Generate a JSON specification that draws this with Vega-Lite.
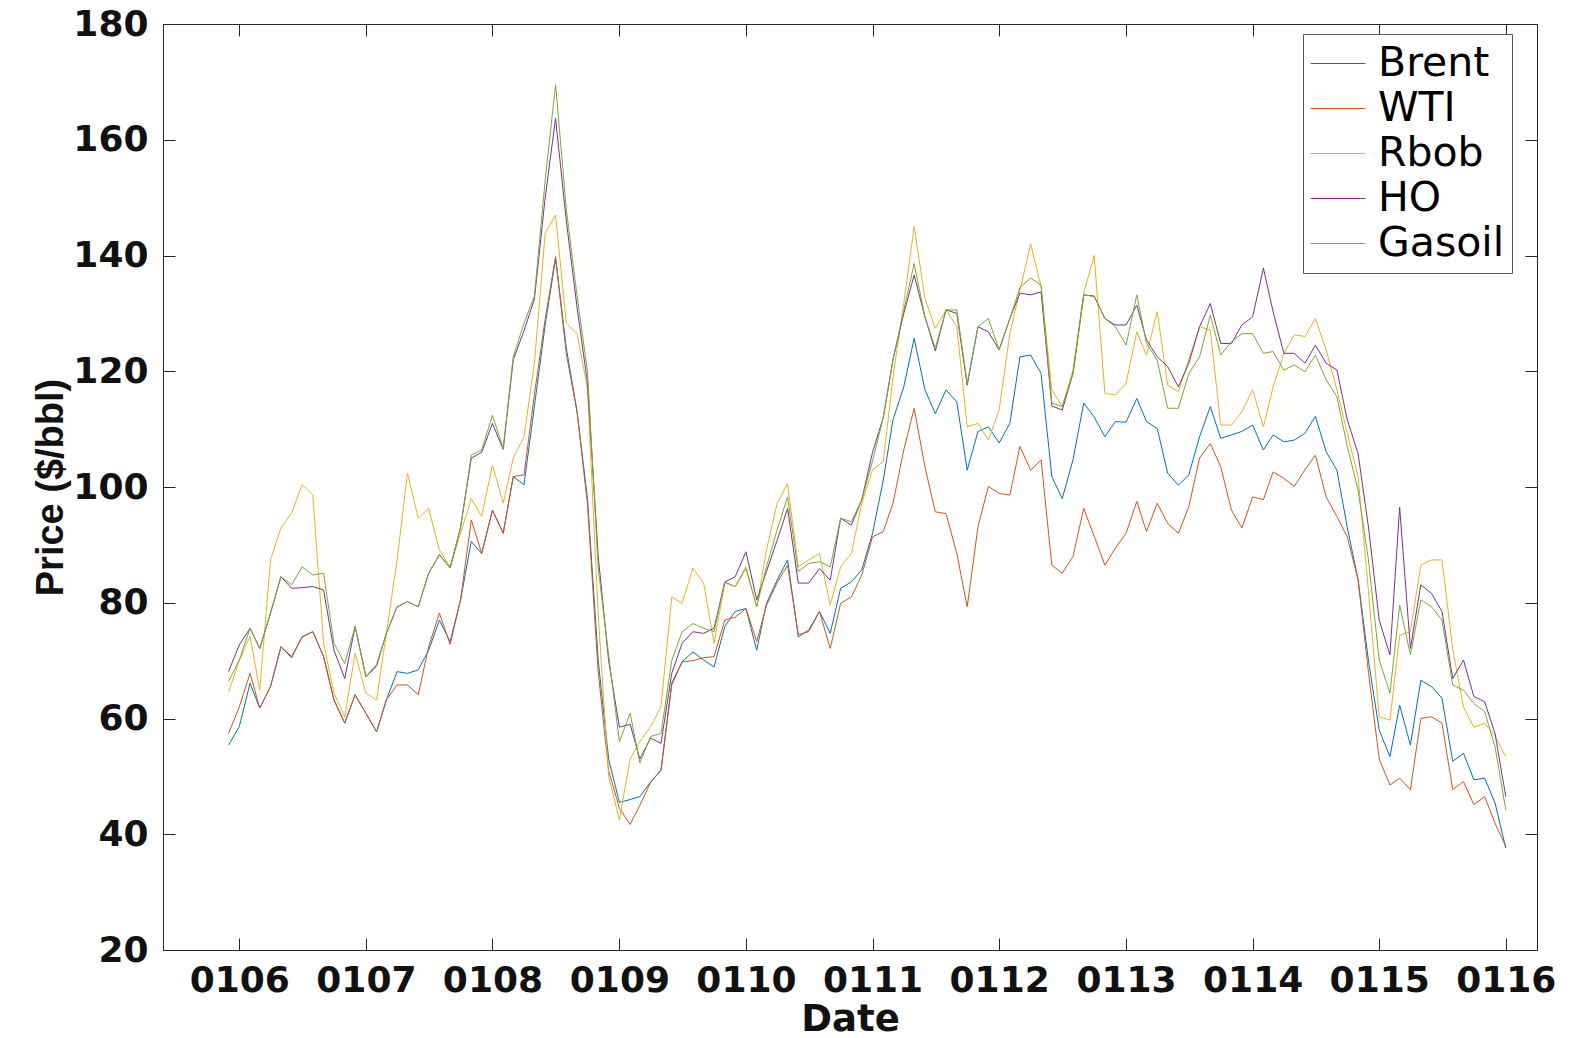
{
  "$schema": "https://vega.github.io/schema/vega-lite/v6.json",
  "autosize": {"type": "none"},
  "padding": {"left": 163, "top": 24, "right": 35, "bottom": 88},
  "width": 1374,
  "height": 926,
  "background": "white",
  "config": {
    "view": {"stroke": "#262626", "strokeWidth": 1},
    "axis": {"grid": false, "domain": false, "tickColor": "#262626", "tickWidth": 1, "tickSize": -12,
      "labelFont": "DejaVu Sans", "labelFontWeight": "bold", "labelFontSize": 36, "labelColor": "#111",
      "titleColor": "#111"},
    "legend": {"orient": "none", "legendX": 1140, "legendY": 10, "symbolType": "stroke", "symbolSize": 3000,
      "symbolStrokeWidth": 1, "labelFont": "DejaVu Sans", "labelFontSize": 41, "labelColor": "#000",
      "labelLimit": 400, "strokeColor": "#555", "fillColor": "#fff", "padding": 7, "rowPadding": 0,
      "clipHeight": 45, "labelOffset": 12}
  },
  "data": {"values": [
    {"d":"2005-12-01","Brent":55.4,"WTI":57.4,"Rbob":64.6,"HO":68.1,"Gasoil":66.4},
    {"d":"2006-01-01","Brent":58.6,"WTI":62.0,"Rbob":70,"HO":72.7,"Gasoil":70.1},
    {"d":"2006-02-01","Brent":66.1,"WTI":67.8,"Rbob":74.2,"HO":75.6,"Gasoil":75.6},
    {"d":"2006-03-01","Brent":61.8,"WTI":61.8,"Rbob":64.9,"HO":72.1,"Gasoil":72.1},
    {"d":"2006-04-01","Brent":65.5,"WTI":65.5,"Rbob":87.4,"HO":78.2,"Gasoil":78.2},
    {"d":"2006-05-01","Brent":72.4,"WTI":72.4,"Rbob":92.9,"HO":84.5,"Gasoil":84.5},
    {"d":"2006-06-01","Brent":70.5,"WTI":70.7,"Rbob":95.5,"HO":82.5,"Gasoil":83.1},
    {"d":"2006-07-01","Brent":74.1,"WTI":74.1,"Rbob":100.4,"HO":82.6,"Gasoil":86.2},
    {"d":"2006-08-01","Brent":75.0,"WTI":75.0,"Rbob":98.6,"HO":82.8,"Gasoil":84.8},
    {"d":"2006-09-01","Brent":70.7,"WTI":70.7,"Rbob":73,"HO":82.2,"Gasoil":85.1},
    {"d":"2006-10-01","Brent":63.2,"WTI":63.2,"Rbob":64.4,"HO":71.8,"Gasoil":73.0},
    {"d":"2006-11-01","Brent":59.2,"WTI":59.2,"Rbob":60.3,"HO":66.9,"Gasoil":69.5},
    {"d":"2006-12-01","Brent":64.1,"WTI":64.1,"Rbob":71.3,"HO":75.9,"Gasoil":75.9},
    {"d":"2007-01-01","Brent":60.9,"WTI":60.9,"Rbob":64.4,"HO":67.2,"Gasoil":67.2},
    {"d":"2007-02-01","Brent":57.7,"WTI":57.7,"Rbob":63.2,"HO":69.3,"Gasoil":69.0},
    {"d":"2007-03-01","Brent":63.2,"WTI":63.2,"Rbob":74.7,"HO":74.7,"Gasoil":74.7},
    {"d":"2007-04-01","Brent":68.1,"WTI":65.8,"Rbob":87.4,"HO":79.3,"Gasoil":79.3},
    {"d":"2007-05-01","Brent":67.8,"WTI":65.8,"Rbob":102.4,"HO":80.2,"Gasoil":80.2},
    {"d":"2007-06-01","Brent":68.4,"WTI":64.1,"Rbob":94.6,"HO":79.3,"Gasoil":79.3},
    {"d":"2007-07-01","Brent":71.8,"WTI":72.4,"Rbob":96.3,"HO":85.1,"Gasoil":85.1},
    {"d":"2007-08-01","Brent":77.0,"WTI":78.2,"Rbob":89.1,"HO":88.3,"Gasoil":88.3},
    {"d":"2007-09-01","Brent":73.3,"WTI":72.8,"Rbob":86.2,"HO":86,"Gasoil":86},
    {"d":"2007-10-01","Brent":80.5,"WTI":80.5,"Rbob":92,"HO":93,"Gasoil":93},
    {"d":"2007-11-01","Brent":90.6,"WTI":94.3,"Rbob":98,"HO":105,"Gasoil":105.5},
    {"d":"2007-12-01","Brent":88.5,"WTI":88.5,"Rbob":94.9,"HO":106,"Gasoil":106.4},
    {"d":"2008-01-01","Brent":96.0,"WTI":96.0,"Rbob":103.8,"HO":111,"Gasoil":112.4},
    {"d":"2008-02-01","Brent":92.0,"WTI":92.0,"Rbob":97.2,"HO":106.5,"Gasoil":106.7},
    {"d":"2008-03-01","Brent":101.8,"WTI":101.8,"Rbob":105,"HO":122,"Gasoil":122.5},
    {"d":"2008-04-01","Brent":100.4,"WTI":102.1,"Rbob":108.7,"HO":127,"Gasoil":128.3},
    {"d":"2008-05-01","Brent":114,"WTI":116,"Rbob":121.4,"HO":132.5,"Gasoil":133},
    {"d":"2008-06-01","Brent":128,"WTI":129,"Rbob":143.8,"HO":150,"Gasoil":153},
    {"d":"2008-07-01","Brent":139.5,"WTI":139.8,"Rbob":147,"HO":163.7,"Gasoil":169.5},
    {"d":"2008-08-01","Brent":124,"WTI":123,"Rbob":128.3,"HO":146,"Gasoil":148},
    {"d":"2008-09-01","Brent":113,"WTI":113,"Rbob":126.5,"HO":131,"Gasoil":133},
    {"d":"2008-10-01","Brent":98,"WTI":97,"Rbob":117,"HO":118,"Gasoil":120},
    {"d":"2008-11-01","Brent":70,"WTI":68,"Rbob":78,"HO":88,"Gasoil":86},
    {"d":"2008-12-01","Brent":53,"WTI":51,"Rbob":50,"HO":70,"Gasoil":71},
    {"d":"2009-01-01","Brent":45.5,"WTI":44.5,"Rbob":42.5,"HO":58.5,"Gasoil":56},
    {"d":"2009-02-01","Brent":46,"WTI":41.7,"Rbob":53,"HO":59,"Gasoil":60.9},
    {"d":"2009-03-01","Brent":46.5,"WTI":45,"Rbob":56,"HO":53,"Gasoil":52.3},
    {"d":"2009-04-01","Brent":49,"WTI":49,"Rbob":58.6,"HO":56.6,"Gasoil":56.9},
    {"d":"2009-05-01","Brent":51.1,"WTI":51,"Rbob":62,"HO":55.7,"Gasoil":57.4},
    {"d":"2009-06-01","Brent":66.1,"WTI":65.8,"Rbob":81,"HO":67.8,"Gasoil":70},
    {"d":"2009-07-01","Brent":69.8,"WTI":69.8,"Rbob":79.9,"HO":73,"Gasoil":75.0},
    {"d":"2009-08-01","Brent":71.5,"WTI":70.0,"Rbob":86,"HO":75,"Gasoil":76.4},
    {"d":"2009-09-01","Brent":70.1,"WTI":70.5,"Rbob":83.4,"HO":74.7,"Gasoil":75.6},
    {"d":"2009-10-01","Brent":68.9,"WTI":70.7,"Rbob":73,"HO":75.6,"Gasoil":75.0},
    {"d":"2009-11-01","Brent":75.9,"WTI":77,"Rbob":83.4,"HO":83.6,"Gasoil":83.6},
    {"d":"2009-12-01","Brent":78.5,"WTI":77.5,"Rbob":82.8,"HO":84.5,"Gasoil":82.8},
    {"d":"2010-01-01","Brent":79.0,"WTI":79,"Rbob":86.2,"HO":88.8,"Gasoil":85.9},
    {"d":"2010-02-01","Brent":71.8,"WTI":73.3,"Rbob":79.3,"HO":80.5,"Gasoil":79.3},
    {"d":"2010-03-01","Brent":79.9,"WTI":79.5,"Rbob":89.1,"HO":85.4,"Gasoil":86.2},
    {"d":"2010-04-01","Brent":83.9,"WTI":83.5,"Rbob":97.2,"HO":90.8,"Gasoil":92.6},
    {"d":"2010-05-01","Brent":87.4,"WTI":86.5,"Rbob":100.6,"HO":96.3,"Gasoil":98.3},
    {"d":"2010-06-01","Brent":74.1,"WTI":74.5,"Rbob":86.2,"HO":83.4,"Gasoil":85.4},
    {"d":"2010-07-01","Brent":75.3,"WTI":75,"Rbob":87.4,"HO":83.4,"Gasoil":86.8},
    {"d":"2010-08-01","Brent":78.5,"WTI":78.5,"Rbob":88.5,"HO":85.9,"Gasoil":87.1},
    {"d":"2010-09-01","Brent":74.7,"WTI":72.1,"Rbob":79.6,"HO":83.9,"Gasoil":86.2},
    {"d":"2010-10-01","Brent":82.5,"WTI":79.9,"Rbob":86.2,"HO":94.6,"Gasoil":94.6},
    {"d":"2010-11-01","Brent":83.6,"WTI":81.0,"Rbob":88.5,"HO":93.4,"Gasoil":94},
    {"d":"2010-12-01","Brent":85.7,"WTI":84.8,"Rbob":97.2,"HO":97.8,"Gasoil":97.8},
    {"d":"2011-01-01","Brent":92,"WTI":91.4,"Rbob":103,"HO":106,"Gasoil":104.5},
    {"d":"2011-02-01","Brent":101.2,"WTI":92.3,"Rbob":104.4,"HO":112,"Gasoil":112},
    {"d":"2011-03-01","Brent":111.6,"WTI":97.2,"Rbob":119,"HO":122,"Gasoil":122},
    {"d":"2011-04-01","Brent":117.3,"WTI":106.4,"Rbob":131.7,"HO":130,"Gasoil":130.5},
    {"d":"2011-05-01","Brent":125.7,"WTI":113.6,"Rbob":145,"HO":136.6,"Gasoil":138.6},
    {"d":"2011-06-01","Brent":116.8,"WTI":103.5,"Rbob":132.6,"HO":129.4,"Gasoil":129.4},
    {"d":"2011-07-01","Brent":112.7,"WTI":95.7,"Rbob":127.4,"HO":123.5,"Gasoil":124},
    {"d":"2011-08-01","Brent":116.8,"WTI":95.4,"Rbob":130.6,"HO":130.6,"Gasoil":130.6},
    {"d":"2011-09-01","Brent":114.7,"WTI":88.5,"Rbob":127.7,"HO":130,"Gasoil":130.6},
    {"d":"2011-10-01","Brent":102.9,"WTI":79.3,"Rbob":110.4,"HO":117.6,"Gasoil":117.9},
    {"d":"2011-11-01","Brent":109.6,"WTI":93.1,"Rbob":111,"HO":127.7,"Gasoil":127.7},
    {"d":"2011-12-01","Brent":110.4,"WTI":100.1,"Rbob":108.1,"HO":126.8,"Gasoil":129.1},
    {"d":"2012-01-01","Brent":107.6,"WTI":98.9,"Rbob":113.3,"HO":123.7,"Gasoil":123.7},
    {"d":"2012-02-01","Brent":111,"WTI":98.6,"Rbob":126.5,"HO":129.1,"Gasoil":129.1},
    {"d":"2012-03-01","Brent":122.5,"WTI":107,"Rbob":134,"HO":133.5,"Gasoil":134.5},
    {"d":"2012-04-01","Brent":122.8,"WTI":102.9,"Rbob":142,"HO":133.2,"Gasoil":136.1},
    {"d":"2012-05-01","Brent":119.6,"WTI":104.7,"Rbob":134.6,"HO":133.7,"Gasoil":134.9},
    {"d":"2012-06-01","Brent":101.8,"WTI":86.5,"Rbob":116.8,"HO":114,"Gasoil":114.5},
    {"d":"2012-07-01","Brent":98.0,"WTI":85.1,"Rbob":113.9,"HO":113.3,"Gasoil":113.9},
    {"d":"2012-08-01","Brent":104.7,"WTI":88.0,"Rbob":120.2,"HO":119.6,"Gasoil":119.6},
    {"d":"2012-09-01","Brent":114.5,"WTI":96.3,"Rbob":133.5,"HO":133.2,"Gasoil":133.2},
    {"d":"2012-10-01","Brent":112.1,"WTI":91.5,"Rbob":140,"HO":133,"Gasoil":132.9},
    {"d":"2012-11-01","Brent":108.7,"WTI":86.5,"Rbob":116.2,"HO":129.1,"Gasoil":129.1},
    {"d":"2012-12-01","Brent":111.3,"WTI":89.4,"Rbob":115.9,"HO":128,"Gasoil":127.7},
    {"d":"2013-01-01","Brent":111.2,"WTI":92,"Rbob":117.9,"HO":128,"Gasoil":124.5},
    {"d":"2013-02-01","Brent":115.3,"WTI":97.5,"Rbob":126.8,"HO":131.4,"Gasoil":133.2},
    {"d":"2013-03-01","Brent":111.3,"WTI":92.3,"Rbob":122.8,"HO":125.4,"Gasoil":124.8},
    {"d":"2013-04-01","Brent":110.1,"WTI":97.2,"Rbob":130.3,"HO":122.5,"Gasoil":121.9},
    {"d":"2013-05-01","Brent":102.4,"WTI":93.7,"Rbob":117.6,"HO":120.8,"Gasoil":113.6},
    {"d":"2013-06-01","Brent":100.3,"WTI":92,"Rbob":116.5,"HO":117.3,"Gasoil":113.6},
    {"d":"2013-07-01","Brent":102.1,"WTI":96.6,"Rbob":122,"HO":121.4,"Gasoil":119.6},
    {"d":"2013-08-01","Brent":108.7,"WTI":105,"Rbob":127.7,"HO":127.7,"Gasoil":122.5},
    {"d":"2013-09-01","Brent":113.9,"WTI":107.5,"Rbob":127.1,"HO":131.7,"Gasoil":129.7},
    {"d":"2013-10-01","Brent":108.4,"WTI":103.5,"Rbob":110.7,"HO":124.8,"Gasoil":122.8},
    {"d":"2013-11-01","Brent":109,"WTI":96,"Rbob":110.7,"HO":124.8,"Gasoil":125.1},
    {"d":"2013-12-01","Brent":109.6,"WTI":92.9,"Rbob":113,"HO":128,"Gasoil":126.5},
    {"d":"2014-01-01","Brent":110.7,"WTI":98.3,"Rbob":116.8,"HO":129.4,"Gasoil":126.5},
    {"d":"2014-02-01","Brent":106.4,"WTI":97.8,"Rbob":110.4,"HO":137.8,"Gasoil":123.1},
    {"d":"2014-03-01","Brent":109,"WTI":102.6,"Rbob":117.3,"HO":130.3,"Gasoil":123.4},
    {"d":"2014-04-01","Brent":107.8,"WTI":101.5,"Rbob":123.1,"HO":123.1,"Gasoil":120.2},
    {"d":"2014-05-01","Brent":108.1,"WTI":100.1,"Rbob":126.3,"HO":123.1,"Gasoil":121.1},
    {"d":"2014-06-01","Brent":109.3,"WTI":103,"Rbob":126,"HO":121.4,"Gasoil":119.9},
    {"d":"2014-07-01","Brent":112.2,"WTI":105.5,"Rbob":129.1,"HO":124.5,"Gasoil":122.8},
    {"d":"2014-08-01","Brent":106.1,"WTI":98.3,"Rbob":123.7,"HO":121.4,"Gasoil":118.5},
    {"d":"2014-09-01","Brent":102.9,"WTI":94.9,"Rbob":116.8,"HO":120.2,"Gasoil":115.6},
    {"d":"2014-10-01","Brent":93,"WTI":91.4,"Rbob":109.3,"HO":111.6,"Gasoil":107},
    {"d":"2014-11-01","Brent":84,"WTI":84,"Rbob":101.8,"HO":105.8,"Gasoil":99.5},
    {"d":"2014-12-01","Brent":70,"WTI":68,"Rbob":82,"HO":93.1,"Gasoil":87.4},
    {"d":"2015-01-01","Brent":58,"WTI":53,"Rbob":60.3,"HO":77,"Gasoil":70.1},
    {"d":"2015-02-01","Brent":53.4,"WTI":48.5,"Rbob":59.7,"HO":71,"Gasoil":64.4},
    {"d":"2015-03-01","Brent":62.3,"WTI":49.7,"Rbob":74.4,"HO":96.5,"Gasoil":79.6},
    {"d":"2015-04-01","Brent":55.4,"WTI":47.7,"Rbob":75,"HO":72.1,"Gasoil":71},
    {"d":"2015-05-01","Brent":66.6,"WTI":60,"Rbob":86.5,"HO":83.1,"Gasoil":80.5},
    {"d":"2015-06-01","Brent":65.5,"WTI":60.3,"Rbob":87.4,"HO":81.6,"Gasoil":79.3},
    {"d":"2015-07-01","Brent":63.5,"WTI":59.2,"Rbob":87.4,"HO":78.5,"Gasoil":77},
    {"d":"2015-08-01","Brent":52.6,"WTI":47.7,"Rbob":72,"HO":66.9,"Gasoil":65.8},
    {"d":"2015-09-01","Brent":54,"WTI":49.1,"Rbob":62,"HO":70.1,"Gasoil":64.9},
    {"d":"2015-10-01","Brent":49.4,"WTI":45.1,"Rbob":58.5,"HO":63.8,"Gasoil":62.6},
    {"d":"2015-11-01","Brent":49.7,"WTI":46.5,"Rbob":59.2,"HO":62.9,"Gasoil":61.2},
    {"d":"2015-12-01","Brent":45.4,"WTI":41.9,"Rbob":57,"HO":57.4,"Gasoil":55.1},
    {"d":"2016-01-01","Brent":37.6,"WTI":37.9,"Rbob":53.4,"HO":46.5,"Gasoil":44.2}
  ]},
  "transform": [{"fold": ["Brent", "WTI", "Rbob", "HO", "Gasoil"], "as": ["series", "price"]}],
  "layer": [
    {
      "mark": {"type": "line", "strokeWidth": 1},
      "encoding": {
        "x": {"field": "d", "type": "temporal",
          "scale": {"type": "utc", "domain": [{"year": 2005, "month": 5, "date": 26, "utc": true}, {"year": 2016, "month": 3, "date": 31, "utc": true}]},
          "axis": {"orient": "bottom", "format": "%m%y", "labelPadding": 25,
            "values": [{"year": 2006, "month": 1, "date": 1, "utc": true}, {"year": 2007, "month": 1, "date": 1, "utc": true}, {"year": 2008, "month": 1, "date": 1, "utc": true}, {"year": 2009, "month": 1, "date": 1, "utc": true}, {"year": 2010, "month": 1, "date": 1, "utc": true}, {"year": 2011, "month": 1, "date": 1, "utc": true}, {"year": 2012, "month": 1, "date": 1, "utc": true}, {"year": 2013, "month": 1, "date": 1, "utc": true}, {"year": 2014, "month": 1, "date": 1, "utc": true}, {"year": 2015, "month": 1, "date": 1, "utc": true}, {"year": 2016, "month": 1, "date": 1, "utc": true}],
            "title": "Date", "titleFont": "DejaVu Sans", "titleFontWeight": "bold", "titleFontSize": 37,
            "titleBaseline": "alphabetic", "titleY": 80}},
        "y": {"field": "price", "type": "quantitative",
          "scale": {"domain": [20, 180], "nice": false, "zero": false},
          "axis": {"orient": "left", "values": [20, 40, 60, 80, 100, 120, 140, 160, 180], "labelPadding": 27,
            "title": "Price ($/bbl)", "titleFont": "Liberation Sans", "titleFontWeight": "bold", "titleFontSize": 38,
            "titleBaseline": "alphabetic", "titleX": -101}},
        "color": {"field": "series", "type": "nominal",
          "scale": {"domain": ["Brent", "WTI", "Rbob", "HO", "Gasoil"], "range": ["#0072BD", "#D95319", "#EDB120", "#7E2F8E", "#77AC30"]},
          "legend": {"title": null}},
        "order": {"field": "d", "type": "temporal"}
      }
    },
    {
      "mark": {"type": "line", "opacity": 0},
      "encoding": {
        "x": {"field": "d", "type": "temporal",
          "axis": {"orient": "top", "labels": false, "title": null,
            "values": [{"year": 2006, "month": 1, "date": 1, "utc": true}, {"year": 2007, "month": 1, "date": 1, "utc": true}, {"year": 2008, "month": 1, "date": 1, "utc": true}, {"year": 2009, "month": 1, "date": 1, "utc": true}, {"year": 2010, "month": 1, "date": 1, "utc": true}, {"year": 2011, "month": 1, "date": 1, "utc": true}, {"year": 2012, "month": 1, "date": 1, "utc": true}, {"year": 2013, "month": 1, "date": 1, "utc": true}, {"year": 2014, "month": 1, "date": 1, "utc": true}, {"year": 2015, "month": 1, "date": 1, "utc": true}, {"year": 2016, "month": 1, "date": 1, "utc": true}]}},
        "y": {"field": "price", "type": "quantitative",
          "axis": {"orient": "right", "labels": false, "title": null, "values": [20, 40, 60, 80, 100, 120, 140, 160, 180]}},
        "detail": {"field": "series"}
      }
    }
  ],
  "resolve": {"axis": {"x": "independent", "y": "independent"}}
}
